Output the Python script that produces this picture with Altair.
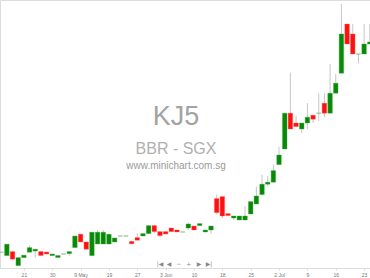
import altair as alt
import pandas as pd

# candle index (trading sessions), OHLC prices
idx = list(range(66))
opens = [0.0639, 0.0622, 0.0642, 0.0572, 0.0612, 0.0639, 0.0645, 0.0642, 0.0640, 0.0622,
         0.0612, 0.0630, 0.0632, 0.0662, 0.0729, 0.0690, 0.0622, 0.0680, 0.0680, 0.0680,
         0.0690, 0.0720, 0.0720, 0.0693, 0.0712, 0.0720, 0.0732, 0.0772, 0.0742, 0.0742,
         0.0760, 0.0750, 0.0740, 0.0760, 0.0770, 0.0772, 0.0740, 0.0750, 0.0907, 0.0917,
         0.0832, 0.0810, 0.0800, 0.0800, 0.0830, 0.0880, 0.0927, 0.0979, 0.0989, 0.1077,
         0.1155, 0.1334, 0.1285, 0.1255, 0.1285, 0.1324, 0.1334, 0.1384, 0.1334, 0.1434,
         0.1534, 0.1780, 0.1730, 0.1630, 0.1630, 0.1680]
closes = [0.0639, 0.0679, 0.0604, 0.0612, 0.0624, 0.0662, 0.0654, 0.0622, 0.0630, 0.0630,
          0.0622, 0.0630, 0.0642, 0.0720, 0.0690, 0.0654, 0.0739, 0.0739, 0.0739, 0.0729,
          0.0710, 0.0720, 0.0720, 0.0681, 0.0699, 0.0732, 0.0772, 0.0742, 0.0722, 0.0730,
          0.0742, 0.0740, 0.0740, 0.0780, 0.0750, 0.0782, 0.0750, 0.0770, 0.0837, 0.0820,
          0.0822, 0.0820, 0.0820, 0.0820, 0.0892, 0.0920, 0.0979, 0.0989, 0.1047, 0.1125,
          0.1334, 0.1255, 0.1267, 0.1285, 0.1314, 0.1304, 0.1334, 0.1334, 0.1434, 0.1484,
          0.1730, 0.1680, 0.1630, 0.1630, 0.1680, 0.1690]
highs = [0.0639, 0.0679, 0.0642, 0.0612, 0.0624, 0.0672, 0.0654, 0.0642, 0.0640, 0.0630,
         0.0622, 0.0630, 0.0642, 0.0720, 0.0729, 0.0690, 0.0739, 0.0750, 0.0750, 0.0729,
         0.0710, 0.0720, 0.0720, 0.0693, 0.0734, 0.0732, 0.0772, 0.0772, 0.0742, 0.0742,
         0.0760, 0.0750, 0.0740, 0.0787, 0.0770, 0.0782, 0.0750, 0.0770, 0.0927, 0.0917,
         0.0832, 0.0820, 0.0820, 0.0870, 0.0892, 0.0967, 0.1027, 0.1020, 0.1077, 0.1167,
         0.1334, 0.1537, 0.1322, 0.1285, 0.1384, 0.1324, 0.1434, 0.1434, 0.1580, 0.1530,
         0.1880, 0.1780, 0.1780, 0.1630, 0.1780, 0.1780]
lows = [0.0639, 0.0622, 0.0604, 0.0572, 0.0612, 0.0639, 0.0612, 0.0622, 0.0630, 0.0622,
        0.0612, 0.0630, 0.0622, 0.0662, 0.0690, 0.0654, 0.0622, 0.0680, 0.0680, 0.0680,
        0.0690, 0.0720, 0.0720, 0.0681, 0.0699, 0.0720, 0.0732, 0.0734, 0.0714, 0.0730,
        0.0742, 0.0740, 0.0740, 0.0750, 0.0750, 0.0772, 0.0740, 0.0730, 0.0827, 0.0810,
        0.0822, 0.0800, 0.0800, 0.0800, 0.0830, 0.0880, 0.0927, 0.0967, 0.0989, 0.1077,
        0.1155, 0.1255, 0.1267, 0.1234, 0.1255, 0.1285, 0.1295, 0.1314, 0.1334, 0.1434,
        0.1534, 0.1680, 0.1630, 0.1584, 0.1630, 0.1680]

tick_idx = [4, 9, 14, 19, 24, 29, 34, 39, 44, 49, 54, 59, 64]
tick_labels = ["21", "30", "9 May", "19", "27", "3 Jun", "10", "18", "25",
               "2 Jul", "9", "16", "23"]

symbol = "KJ5"
company = "BBR - SGX"
site = "www.minichart.com.sg"

df = pd.DataFrame({"i": idx, "open": opens, "close": closes, "high": highs, "low": lows})
df["dir"] = ["up" if c > o else ("down" if c < o else "flat") for o, c in zip(opens, closes)]

xscale = alt.Scale(domain=[-0.2116, 65.04], nice=False, zero=False)
yscale = alt.Scale(domain=[0.056, 0.190], nice=False, zero=False)

label_arr = "[" + ",".join("'" + t + "'" for t in tick_labels) + "]"
label_expr = f"{label_arr}[round((datum.value - {tick_idx[0]}) / 5)]"

xaxis = alt.Axis(values=tick_idx, labelExpr=label_expr, grid=False, title=None,
                 domainColor="#dcdcdc", tickColor="#dcdcdc", tickSize=2,
                 labelFontSize=5, labelColor="#777777", labelPadding=2,
                 labelFont="Liberation Sans", labelOverlap=False, labelFlush=False)

base = alt.Chart(df)

wicks = base.mark_rule(color="#c6c6c6", strokeWidth=1, clip=True).encode(
    x=alt.X("i:Q", scale=xscale, axis=xaxis),
    y=alt.Y("low:Q", scale=yscale, axis=None),
    y2="high:Q",
)

bodies = base.transform_filter("datum.dir != 'flat'").transform_calculate(
    xa="datum.i - 0.4", xb="datum.i + 0.4"
).mark_rect(clip=True, strokeWidth=0.4).encode(
    x=alt.X("xa:Q", scale=xscale, axis=xaxis),
    x2="xb:Q",
    y=alt.Y("open:Q", scale=yscale, axis=None),
    y2="close:Q",
    color=alt.Color("dir:N", scale=alt.Scale(domain=["up", "down"],
                                             range=["#078a07", "#ff1010"]), legend=None),
    stroke=alt.Stroke("dir:N", scale=alt.Scale(domain=["up", "down"],
                                               range=["#4aa84a", "#ff5a5a"]), legend=None),
)

dojis = base.transform_filter("datum.dir == 'flat'").transform_calculate(
    xa="datum.i - 0.4", xb="datum.i + 0.4"
).mark_rule(color="#8cc88c", strokeWidth=1.2, clip=True).encode(
    x=alt.X("xa:Q", scale=xscale, axis=xaxis),
    x2="xb:Q",
    y=alt.Y("open:Q", scale=yscale, axis=None),
)

def label(text, x, y, size, color):
    return alt.Chart(pd.DataFrame({"t": [text]})).mark_text(
        font="Liberation Sans", fontSize=size, color=color, align="center",
        baseline="alphabetic"
    ).encode(text="t:N", x=alt.value(x), y=alt.value(y))

wm1 = label(symbol, 176, 125, 27, "#a3a3a3")
wm2 = label(company, 176, 154, 16, "#b0b0b0")
wm3 = label(site, 176, 168.5, 10, "#9a9a9a")

nav = []
for g, xp in [("|◀", 160), ("◀", 169), ("−", 178.7), ("+", 188.7), ("▶", 199), ("▶|", 209)]:
    nav.append(alt.Chart(pd.DataFrame({"t": [g]})).mark_text(
        font="DejaVu Sans", fontSize=6, color="#888888", align="center", baseline="middle"
    ).encode(text="t:N", x=alt.value(xp), y=alt.value(263.5)))

chart = alt.layer(wicks, bodies, dojis, wm1, wm2, wm3, *nav).properties(
    width=370, height=268,
    padding={"left": 0, "top": 0, "right": 0, "bottom": 10},
    autosize="none"
).configure_view(stroke=None).configure(background="white")

chart.save("out.html", embed_options={"renderer": "svg", "actions": False})
